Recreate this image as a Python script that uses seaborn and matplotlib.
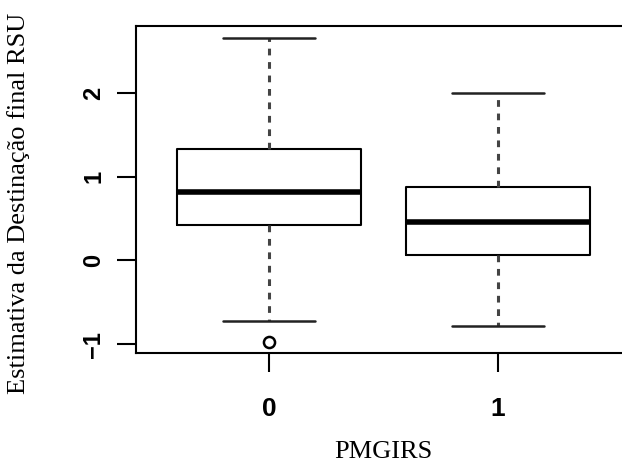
"""
R-style boxplot of the estimated final destination of RSU by PMGIRS group.
Saves out.png (622x466).
"""

import pandas as pd
import seaborn as sns
import matplotlib.pyplot as plt

# ============================
# Data
# ============================
groups = ["0", "1"]
whislo = [-0.72, -0.78]
q1 = [0.42, 0.07]
medians = [0.82, 0.46]
q3 = [1.33, 0.88]
whishi = [2.66, 2.00]
outliers = [[-0.97], []]


def build_points(i):
    """Nine points whose quartiles / whiskers give the five-number summary."""
    low = outliers[i] + [whislo[i]] * (2 - len(outliers[i]))
    return low + [q1[i], medians[i], medians[i], medians[i], q3[i], whishi[i], whishi[i]]


rows = []
for i, g in enumerate(groups):
    for v in build_points(i):
        rows.append({"PMGIRS": g, "value": v})
df = pd.DataFrame(rows)

# ============================
# Style
# ============================
sns.set_theme(style="ticks")
plt.rcParams["font.family"] = ["Liberation Sans", "DejaVu Sans"]
plt.rcParams["text.color"] = "black"
plt.rcParams["axes.labelcolor"] = "black"
plt.rcParams["xtick.color"] = "black"
plt.rcParams["ytick.color"] = "black"

fig = plt.figure(figsize=(6.22, 4.66), dpi=100)
# axes runs past the right edge, like the cropped original
ax = fig.add_axes([136 / 622, 1 - 352.7 / 466, 495 / 622, 326.7 / 466])

sns.boxplot(
    data=df, x="PMGIRS", y="value", order=groups,
    width=0.8, fill=False, color="black", linewidth=1.5,
    whiskerprops=dict(linestyle=(0, (2.2, 2.2)), linewidth=2.2, color="#444444"),
    capprops=dict(color="#222222", linewidth=1.8),
    medianprops=dict(linewidth=4, color="black"),
    flierprops=dict(marker="o", markersize=8, markeredgewidth=1.8,
                    markerfacecolor="white", markeredgecolor="black"),
    ax=ax,
)

ax.set_xlim(-0.58, 1.58)
ax.set_ylim(-1.103, 2.805)
ax.set_yticks([-1, 0, 1, 2])

for side in ["left", "right", "top", "bottom"]:
    ax.spines[side].set_visible(True)
    ax.spines[side].set_linewidth(1.5)
    ax.spines[side].set_color("black")

ax.tick_params(axis="both", direction="out", length=14, width=1.5, color="black")
ax.tick_params(axis="y", pad=8, labelsize=17)
ax.tick_params(axis="x", pad=18, labelsize=19)
for lab in ax.get_yticklabels():
    lab.set_rotation(90)
    lab.set_va("center")
    lab.set_fontweight("bold")
for lab in ax.get_xticklabels():
    lab.set_fontweight("bold")

# axis titles in a Times-like serif
ax.set_xlabel("PMGIRS", family="Liberation Serif", fontsize=19, va="center")
ax.set_ylabel("Estimativa da Destinação final RSU", family="Liberation Serif",
              fontsize=19, va="center")
ax.xaxis.set_label_coords(0.5, (352.7 - 452) / 326.7)
ax.yaxis.set_label_coords((19 - 136) / 495, (352.7 - 203) / 326.7)

fig.savefig("out.png", dpi=100)
plt.close(fig)
